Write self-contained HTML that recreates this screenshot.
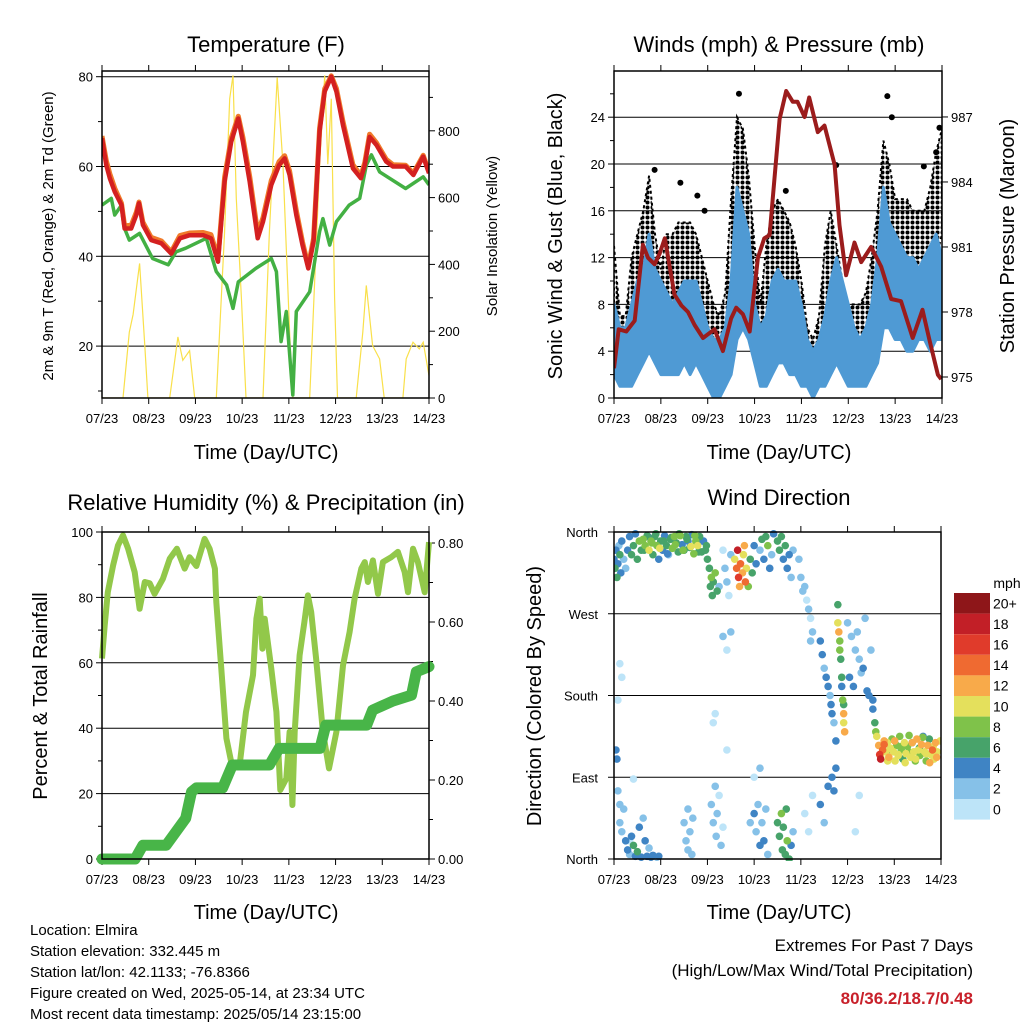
<!DOCTYPE html>
<html><head><meta charset="utf-8"><style>
html,body{margin:0;padding:0;background:#fff;}
svg{display:block;font-family:"Liberation Sans",sans-serif;}
</style></head><body>
<svg id="chart" width="1024" height="1024" viewBox="0 0 1024 1024" xmlns="http://www.w3.org/2000/svg">
<defs>
<pattern id="gustdots" width="5" height="5" patternUnits="userSpaceOnUse"><circle cx="2.5" cy="2.5" r="2" fill="#000"/></pattern>
</defs>
</svg>
<script>
// ---------- DATA ----------
const dayLabels=["07/23","08/23","09/23","10/23","11/23","12/23","13/23","14/23"];
// Temperature panel
const tempHours=[0,2.2,4,6.5,10,11.6,15,17.6,19,21,25.3,30.5,35.6,40,45,52,56,59.6,63,66.4,70,72.4,75.9,80,82.7,87,91,93.8,96.4,99.8,103,106,108.7,111.8,114.4,117.8,120.4,123.8,128.9,133,135,137.5,141,146,149.5,156,160,165,168];
const temp2m=[66.3,60.3,57.4,54.4,51.4,46.2,46.2,49.2,51.8,47,43.6,42.9,40.6,44,44.7,44.7,44,38.8,56.6,65.5,70.7,65.5,56.6,44,47.7,55.9,60.3,61.8,58.1,49.2,42.5,37.3,43.3,67.8,76.7,80,76.7,69.2,59.6,57.4,60.3,66.6,64.8,61.1,60,60,58.1,62.2,58.5];
const temp9m=[66.8,61.3,58.4,55.2,51.8,46.8,46.9,49.8,52.1,47.6,44.2,43.4,41,44.6,45.2,45.3,44.8,39.6,57.6,66.3,71.2,66.5,57.8,45.2,48.6,56.9,61.1,62.4,59,50.2,43.2,37.8,44,68.6,77.3,80.2,77.4,70,60.4,58,60.9,67.2,65.3,61.6,60.4,60.3,58.5,62.5,58.8];
const dewHours=[0,4.8,6.5,10,11.6,14,19.3,26,34,38,43,53.6,58.7,64,67.3,70,79,87,89.6,92,94.7,98,99.8,106.7,111.8,113.5,117,120.4,127,132.4,135.8,138.4,142.6,156,165,168];
const dew2m=[51.4,52.9,49.2,51.4,46.2,43.6,45.1,39.5,38.1,41,41.8,44,36.6,33.6,28.4,34.3,37.3,39.5,36.6,21,27.7,9.1,27.7,32.1,45.5,48.4,42.5,47.7,51.4,52.9,60.3,62.6,58.8,55.1,57.7,55.9];
const solarHours=[0,10.8,14,16,19.3,22,23.6,34.8,39,41.5,45,47.6,58.7,63,65.6,67.3,69,71.6,74,82.7,86,90,93,96.4,98,106.7,111.8,114.4,116,117.8,119.5,121,130.6,134,135.8,139,142.6,145,154.6,156.3,159.8,163,165,168];
const solarW=[0,0,197,250,403,157,0,0,183,113,142,0,0,498,896,966,597,299,0,0,498,960,697,197,0,0,697,966,700,896,299,0,0,197,337,157,117,0,0,117,167,147,167,67];
const tempTicks=[20,40,60,80];
const solarTicks=[0,200,400,600,800];
// Wind panel
const windHours=[0,3,6,9,12,15,18,21,24,27,30,33,36,39,42,45,48,51,54,57,60,63,66,69,72,75,78,81,84,87,90,93,96,99,102,105,108,111,114,117,120,123,126,129,132,135,138,141,144,147,150,153,156,159,162,165,168];
const windHi=[8,6,6,8,10,11,14,11,10,9,8,9,10,10,10,8,6,5,5,6,10,18,16,14,8,6,7,10,11,10,10,10,8,5,4,5,7,10,12,10,8,6,5,6,8,12,18,15,14,13,12,12,11,12,13,14,12];
const windLo=[2,1,1,1,2,3,4,3,2,2,2,2,3,2,3,2,1,0,0,1,2,5,6,5,3,1,1,2,3,3,2,2,1,1,0,1,1,2,3,2,1,1,1,1,2,3,6,6,5,5,4,4,5,5,4,5,5];
const gustHi=[13,7,7,12,14,16,19,14,11,14,14,15,15,15,14,12,10,8,7,9,17,24,23,19,13,8,13,16,17,16,15,13,10,6,5,7,13,16,13,10,8,8,8,9,12,16,22,20,17,17,17,16,16,16,18,21,23];
const gustLo=[6,3,3,5,7,8,8,6,5,6,7,7,7,7,6,5,4,3,3,4,8,12,13,10,5,3,6,8,9,7,7,6,4,3,3,4,6,8,7,5,4,3,4,4,6,9,12,12,10,9,10,10,9,10,10,12,14];
const gustOutHours=[64,20.8,34,42.7,46.4,88,113.8,140,142.3,158.7,166.7,165];
const gustOutMph=[26,19.5,18.4,17.3,16,17.7,19.9,25.8,24,19.8,23.1,21];
const presHours=[0,2.4,6.3,10.6,14.8,17.4,20.8,23.4,26,31,34.5,37.9,41.3,45.6,51.5,55.8,60,62.6,66,69.5,73.7,77,79.7,84.8,88.2,91.6,94,97.6,100,104.4,107.8,113,115.5,118.9,123.2,126.6,131.7,136.8,142,147,153,158,161.6,165.9,167.6];
const presMb=[975.4,977.2,977.1,977.6,981.1,980.5,980.2,980.7,981.4,978.8,978.3,978,977.4,976.8,977.2,976.2,977.7,978.2,977.9,977.1,980.5,981.4,981.55,986.9,988.2,987.7,987.7,987,987.9,986.3,986.6,984.8,982,979.7,981.2,980.3,981,980.1,978.6,978.5,976.8,978.1,976.7,975.1,974.9];
const windTicks=[0,4,8,12,16,20,24];
const presTicks=[975,978,981,984,987];
// RH panel
const rhHours=[0,1.4,3,5.7,8.2,10.8,13.4,16.8,19.3,22,24.5,27,31.3,34.8,38.5,42.5,45,48.5,52.7,55.3,58,58.7,61.3,63.9,66.4,70.7,74,77.6,79.3,81,82.4,83.6,87,89.6,91.6,94.7,96.4,97.8,99,101.5,104,105.8,107.5,110,113.5,116.6,120.4,123.8,127.2,129.8,133.2,135,136.6,139.2,141.8,144.3,148.6,152,155.5,157.2,159.8,162.3,165.8,168];
const rhPct=[61.3,71.4,81.6,89.8,95.9,99,94.9,87.7,76.5,84.7,84.3,81.1,85.7,91.8,94.9,88.8,92.3,89.6,97.9,94.9,88.8,78.6,58.2,36.9,29.7,28.7,45,56.2,73.5,79.6,64.3,73.5,58.2,45,21.1,24.6,38.9,16.5,38.9,62.3,72.5,80.6,75.5,61.3,38.9,27.7,38.9,59.2,69.4,79.6,88.8,90.8,84.7,91.3,81.1,90.8,92.3,93.9,87.7,81.6,94.9,90.8,81.6,96.9];
const precHours=[0,17,21,33,38,43,46,48.5,62,67,86,91,112,115,136,139,149.5,159,161.5,168];
const precIn=[0,0,0.035,0.035,0.069,0.103,0.17,0.18,0.18,0.238,0.238,0.28,0.28,0.339,0.339,0.377,0.40,0.415,0.474,0.487];
const rhTicks=[0,20,40,60,80,100];
const precTicks=["0.00","0.20","0.40","0.60","0.80"];
// Wind direction panel (hours, degrees, mph) - aligned line by line
const dirHours=[
0,0.5,1,1.5,2,2.5,3,3.5,4,5,6,7,8,9,10,11,12,13,14,
15,16,17,18,19,20,21,22,23,24,25,26,27,28,29,30,31,32,33,34,35,36,37,38,39,40,41,42,43,44,45,46,47,48,
15.5,17.5,19.5,21.5,23.5,25.5,27.5,29.5,31.5,33.5,35.5,37.5,39.5,41.5,43.5,45.5,47.5,
49,49.5,50,50.5,51,52,53,54,
56,57,58,59,60,60,58,56,
62,63,63.5,64,64.5,65,66,66.5,67,67.5,68,69,70,71,72,73,
75,76,77,78,79,80,81,82,84,85,86,87,88,89,90,91,92,
95,96,97,98,99,100,101,101,102,
106,107,108,109,110,111,111.5,112,113,114,114,112,113,
115,115,115.5,116,116,116.5,117,117,117.5,118,118,118.5,118,
120,122,124,126,128,121,123,127,130,125,129,132,131,133,
133,134,134.5,135,
136,136.5,137,138,138.8,139.6,140.4,141.2,142,142.8,143.6,144.4,145.2,146,146.8,147.6,148.4,149.2,150,150.8,151.6,152.4,153.2,154,154.8,155.6,156.4,157.2,158,158.8,159.6,160.4,161.2,162,162.8,163.6,164.4,165.2,166,
137,138.8,140.6,142.4,144.2,146,147.8,149.6,151.4,153.2,155,156.8,158.6,160.4,162.2,164,165.8,167.6,
3,4,5,6,7,8,9,10,11,12,13,14,15,16,17,18,19,20,22,23,2,3,
1,1.5,4,3,2,10,8,
36,37,38,38,39,40,40.5,
50,51,52,52.5,53,54,55,56,51,52,
72,73,74,75,76,77,78,79,70,72,75,
84,85,86,86.5,87,88,88.5,89,90,91,92,
98,100,102,106,108,110,124,126,58];
const dirDeg=[
330,320,340,310,325,345,335,315,350,330,320,340,355,335,345,358,330,350,340,
352,345,356,340,350,335,355,345,330,350,340,356,345,335,352,342,355,348,338,356,346,340,355,350,343,357,336,350,345,355,338,350,340,330,
340,355,348,358,342,350,336,354,346,358,340,352,344,356,338,350,345,
320,300,310,290,305,315,295,300,
340,320,305,290,335,250,230,245,
330,320,340,310,300,325,315,335,345,305,320,300,330,315,345,325,
340,352,330,355,345,320,335,358,350,340,355,330,345,320,335,310,340,
330,310,295,300,285,275,265,240,250,
240,225,210,200,190,180,170,160,150,130,100,90,75,
280,260,250,240,230,220,200,190,175,160,150,140,170,
260,245,230,220,210,200,190,205,185,250,265,230,180,175,
165,150,140,135,
125,115,110,120,130,118,128,112,122,132,118,108,125,115,135,120,110,128,116,124,136,112,128,118,108,132,120,114,126,135,118,108,125,132,115,120,110,128,118,
112,126,108,120,130,114,124,106,118,128,110,122,134,116,106,124,112,130,
40,30,55,20,10,5,25,15,3,8,35,2,45,20,3,12,2,4,2,3,75,60,
120,110,200,215,175,88,20,
40,20,55,10,30,5,45,
60,40,80,25,50,70,15,35,150,160,
50,30,60,15,40,20,55,5,40,90,100,
40,25,50,10,35,5,55,20,0,15,30,
50,30,70,60,40,80,30,70,120];
const dirMph=[
5,6,4,7,5,3,6,5,4,3,2,5,4,6,7,5,6,8,7,
9,8,7,10,9,7,6,8,5,7,4,5,6,3,6,8,9,7,6,8,5,7,6,4,6,5,8,9,10,7,6,5,7,6,
6,5,8,7,10,6,5,7,9,6,8,7,11,8,7,5,6,
7,6,8,7,6,9,7,3,
1,2,3,1,2,2,1,3,
10,14,18,16,12,15,13,11,12,14,10,9,7,6,4,5,
3,6,4,7,8,4,3,5,6,7,7,5,6,4,5,3,2,
3,2,2,3,1,2,1,3,2,
5,4,3,4,5,3,4,5,3,4,5,4,5,
6,10,12,9,8,7,6,5,9,13,11,12,7,
3,2,3,2,4,5,4,3,4,2,3,2,5,4,
5,6,8,10,
12,16,18,14,12,10,11,12,10,9,10,11,9,10,8,9,7,10,11,9,8,10,6,10,9,12,11,9,13,4,10,9,12,7,10,14,11,12,10,
10,14,11,9,12,10,8,11,9,12,10,7,9,11,13,10,12,11,
2,3,2,4,5,3,4,6,5,6,4,5,3,4,5,3,4,5,3,4,2,3,
4,4,1,1,1,1,1,
2,2,3,2,2,3,2,
2,3,2,3,2,1,3,1,1,1,
4,3,2,5,3,4,2,3,2,1,2,
7,6,8,6,7,6,7,8,6,4,3,
1,1,1,4,3,4,1,1,1];
const speedBins=["0","2","4","6","8","10","12","14","16","18","20+"];
const dirTickLabels=["North","East","South","West","North"];
</script>
<script>
const NS="http://www.w3.org/2000/svg";
const svg=document.getElementById('chart');
function mk(tag,attrs,parent){const e=document.createElementNS(NS,tag);for(const k in attrs)e.setAttribute(k,attrs[k]);(parent||svg).appendChild(e);return e;}
function txt(s,x,y,size,anchor,parent,extra){const e=mk('text',Object.assign({x:x,y:y,'font-size':size,'text-anchor':anchor||'middle',fill:'#000'},extra||{}),parent);e.textContent=s;return e;}
function pts(xs,ys,fx,fy){return xs.map((t,i)=>fx(t).toFixed(1)+','+fy(ys[i]).toFixed(1)).join(' ');}
const SPEEDCOL=["#bde4f8","#86c1e8","#3f84c4","#47a36a","#7fc24a","#e4e05c","#f8aa4a","#ef6a31","#e03b2b","#c21f27","#8e1619"];

function frame(name,x0,y0,x1,y1,xf){
  const g=mk('g',{});
  
  
  dayLabels.forEach((d,i)=>{const x=xf(i*24);
    const tk=mk('line',{x1:x,x2:x,y1:y1,y2:y1+6,stroke:'#000','stroke-width':1},g);
    
    
    mk('line',{x1:x,x2:x,y1:y0,y2:y0-6,stroke:'#000','stroke-width':1},g);
    const l=txt(d,x,y1+25,13,'middle',g);
    
    
  });
  return g;
}
function box(x0,y0,x1,y1){const r=mk('rect',{x:x0,y:y0,width:x1-x0,height:y1-y0,fill:'none',stroke:'#000','stroke-width':1.5});
  
  }
function hgrid(y,x0,x1,parent){const l=mk('line',{x1:x0,x2:x1,y1:y,y2:y,stroke:'#000','stroke-width':1},parent);
  
  }

// ===== Panel 1: Temperature =====
(function(){
const X0=102,X1=429,Y0=71,Y1=398;
const x=t=>X0+t*(X1-X0)/168, y=v=>76.7+(80-v)*4.49, ys=w=>Y1-w*0.334;
const g=frame('temperature',X0,Y0,X1,Y1,x);
tempTicks.forEach(v=>{hgrid(y(v),X0,X1,g);mk('line',{x1:X0-6,x2:X0,y1:y(v),y2:y(v),stroke:'#000'},g);
  const l=txt(String(v),X0-9,y(v)+5,13,'end',g);
  
  });
[10,30,50,70].forEach(v=>mk('line',{x1:X0-4,x2:X0,y1:y(v),y2:y(v),stroke:'#000'},g));
solarTicks.forEach(v=>{mk('line',{x1:X1,x2:X1+6,y1:ys(v),y2:ys(v),stroke:'#000'},g);
  const l=txt(String(v),X1+9,ys(v)+5,13,'start',g);
  
  });
[100,300,500,700,900].forEach(v=>mk('line',{x1:X1,x2:X1+4,y1:ys(v),y2:ys(v),stroke:'#000'},g));
const cp=mk('clipPath',{id:'c1'});mk('rect',{x:X0,y:Y0,width:X1-X0,height:Y1-Y0},cp);
const sol=mk('polyline',{points:pts(solarHours,solarW,x,ys),fill:'none',stroke:'#f9e04a','stroke-width':1.2,'clip-path':'url(#c1)'});


const dw=mk('polyline',{points:pts(dewHours,dew2m,x,y),fill:'none',stroke:'#43b043','stroke-width':3.5,'stroke-linejoin':'round','clip-path':'url(#c1)'});


const t9=mk('polyline',{points:pts(tempHours,temp9m,x,y),fill:'none',stroke:'#f07a2a','stroke-width':5,'stroke-linejoin':'round','clip-path':'url(#c1)'});


const t2=mk('polyline',{points:pts(tempHours,temp2m,x,y),fill:'none',stroke:'#d42020','stroke-width':4.5,'stroke-linejoin':'round','clip-path':'url(#c1)'});


box(X0,Y0,X1,Y1);
const t=txt('Temperature (F)',266,52,22);
const xt=txt('Time (Day/UTC)',266,459,20);
const yt=txt('2m & 9m T (Red, Orange) & 2m Td (Green)',0,0,15,'middle',null,{transform:'translate(53,236) rotate(-90)'});

const rt=txt('Solar Insolation (Yellow)',0,0,15,'middle',null,{transform:'translate(497,236) rotate(-90)'});

})();

// ===== Panel 2: Winds =====
(function(){
const X0=614,X1=942,Y0=71,Y1=398;
const x=t=>X0+t*(X1-X0)/168, y=s=>Y1-s*11.7, yp=p=>377-(p-975)*21.67;
const g=frame('winds',X0,Y0,X1,Y1,x);
windTicks.forEach(v=>{if(v>0)hgrid(y(v),X0,X1,g);mk('line',{x1:X0-6,x2:X0,y1:y(v),y2:y(v),stroke:'#000'},g);
  const l=txt(String(v),X0-9,y(v)+5,13,'end',g);
  
  });
[2,6,10,14,18,22,26].forEach(v=>mk('line',{x1:X0-4,x2:X0,y1:y(v),y2:y(v),stroke:'#000'},g));
presTicks.forEach(v=>{mk('line',{x1:X1,x2:X1+6,y1:yp(v),y2:yp(v),stroke:'#000'},g);
  const l=txt(String(v),X1+9,yp(v)+5,13,'start',g);
  
  });
const cp=mk('clipPath',{id:'c2'});mk('rect',{x:X0,y:Y0,width:X1-X0,height:Y1-Y0},cp);
const gp=pts(windHours,gustHi,x,y)+' '+pts(windHours.slice().reverse(),gustLo.slice().reverse(),x,y);
const gb=mk('polygon',{points:gp,fill:'url(#gustdots)',stroke:'#000','stroke-width':2,'stroke-dasharray':'3 3','clip-path':'url(#c2)'});


gustOutHours.forEach((t,i)=>{const c=mk('circle',{cx:x(t),cy:y(gustOutMph[i]),r:3,fill:'#000'});
  
  });
const wp=pts(windHours,windHi,x,y)+' '+pts(windHours.slice().reverse(),windLo.slice().reverse(),x,y);
const wb=mk('polygon',{points:wp,fill:'#4f9ad4',stroke:'#4f9ad4','stroke-width':3,'stroke-linejoin':'round','clip-path':'url(#c2)'});


const pl=mk('polyline',{points:pts(presHours,presMb,x,yp),fill:'none',stroke:'#9b1c1c','stroke-width':4,'stroke-linejoin':'round','clip-path':'url(#c2)'});


box(X0,Y0,X1,Y1);
const t=txt('Winds (mph) & Pressure (mb)',779,52,22);
const xt=txt('Time (Day/UTC)',779,459,20);
const yt=txt('Sonic Wind & Gust (Blue, Black)',0,0,20,'middle',null,{transform:'translate(562,236) rotate(-90)'});

const rt=txt('Station Pressure (Maroon)',0,0,20,'middle',null,{transform:'translate(1014,236) rotate(-90)'});

})();

// ===== Panel 3: RH & precip =====
(function(){
const X0=102,X1=429,Y0=532,Y1=859;
const x=t=>X0+t*(X1-X0)/168, y=v=>Y1-v*3.27, yp=v=>Y1-v*395;
const g=frame('humidity',X0,Y0,X1,Y1,x);
rhTicks.forEach(v=>{if(v>0&&v<100)hgrid(y(v),X0,X1,g);mk('line',{x1:X0-6,x2:X0,y1:y(v),y2:y(v),stroke:'#000'},g);
  const l=txt(String(v),X0-9,y(v)+5,13,'end',g);
  
  });
[10,30,50,70,90].forEach(v=>mk('line',{x1:X0-4,x2:X0,y1:y(v),y2:y(v),stroke:'#000'},g));
precTicks.forEach(s=>{const v=parseFloat(s);mk('line',{x1:X1,x2:X1+6,y1:yp(v),y2:yp(v),stroke:'#000'},g);
  const l=txt(s,X1+9,yp(v)+5,13,'start',g);
  
  });
[0.1,0.3,0.5,0.7].forEach(v=>mk('line',{x1:X1,x2:X1+4,y1:yp(v),y2:yp(v),stroke:'#000'},g));
const cp=mk('clipPath',{id:'c3'});mk('rect',{x:X0-8,y:Y0,width:X1-X0+16,height:Y1-Y0+8},cp);
const rl=mk('polyline',{points:pts(rhHours,rhPct,x,y),fill:'none',stroke:'#92c84a','stroke-width':6,'stroke-linejoin':'round','clip-path':'url(#c3)'});


const pl=mk('polyline',{points:pts(precHours,precIn,x,yp),fill:'none',stroke:'#48b548','stroke-width':11,'stroke-linejoin':'round','stroke-linecap':'round','clip-path':'url(#c3)'});


box(X0,Y0,X1,Y1);
const t=txt('Relative Humidity (%) & Precipitation (in)',266,510,22);
const xt=txt('Time (Day/UTC)',266,919,20);
const yt=txt('Percent & Total Rainfall',0,0,20,'middle',null,{transform:'translate(47,696) rotate(-90)'});

})();

// ===== Panel 4: Wind direction =====
(function(){
const X0=614,X1=941,Y0=532,Y1=859;
const x=t=>X0+t*(X1-X0)/168, y=d=>Y1-d/360*(Y1-Y0);
const g=frame('wind-direction',X0,Y0,X1,Y1,x);
dirTickLabels.forEach((s,i)=>{const v=i*90;if(i>0&&i<4)hgrid(y(v),X0,X1,g);mk('line',{x1:X0-6,x2:X0,y1:y(v),y2:y(v),stroke:'#000'},g);
  const l=txt(s,X0-16,y(v)+5,13,'end',g);
  
  });
const cp=mk('clipPath',{id:'c4'});mk('rect',{x:X0,y:Y0-2,width:X1-X0,height:Y1-Y0+4},cp);
const pg=mk('g',{'clip-path':'url(#c4)'});


const order=dirMph.map((s,i)=>i).sort((a,b)=>dirMph[a]-dirMph[b]);
order.forEach(i=>{const c=mk('circle',{cx:x(dirHours[i]),cy:y(dirDeg[i]),r:3.8,fill:SPEEDCOL[Math.min(10,Math.floor(dirMph[i]/2))]},pg);
  
  });
box(X0,Y0,X1,Y1);
const t=txt('Wind Direction',779,505,22);
const xt=txt('Time (Day/UTC)',779,919,20);
const yt=txt('Direction (Colored By Speed)',0,0,20,'middle',null,{transform:'translate(541,696) rotate(-90)'});

// colorbar
const lg=mk('g',{});


const u=txt('mph',1007,588,14,'middle',lg);


const bh=20.6;
speedBins.forEach((s,i)=>{const k=10-i;const yy=593+i*bh;
  const r=mk('rect',{x:954,y:yy,width:36,height:bh,fill:SPEEDCOL[k]},lg);
  
  
  const l=txt(speedBins[k],993,yy+bh/2+5,14,'start',lg);
  
  });
})();

// ===== Footer text =====
(function(){
const info=["Location: Elmira","Station elevation: 332.445 m","Station lat/lon: 42.1133; -76.8366","Figure created on Wed, 2025-05-14, at 23:34 UTC","Most recent data timestamp: 2025/05/14 23:15:00"];
info.forEach((s,i)=>{const l=txt(s,30,935+i*21,15,'start');
  
  });
const a=txt('Extremes For Past 7 Days',973,951,17,'end');


const b=txt('(High/Low/Max Wind/Total Precipitation)',973,976,17,'end');


const c=txt('80/36.2/18.7/0.48',973,1004,17,'end',null,{fill:'#c8202a','font-weight':'bold'});


})();
</script>
</body></html>
